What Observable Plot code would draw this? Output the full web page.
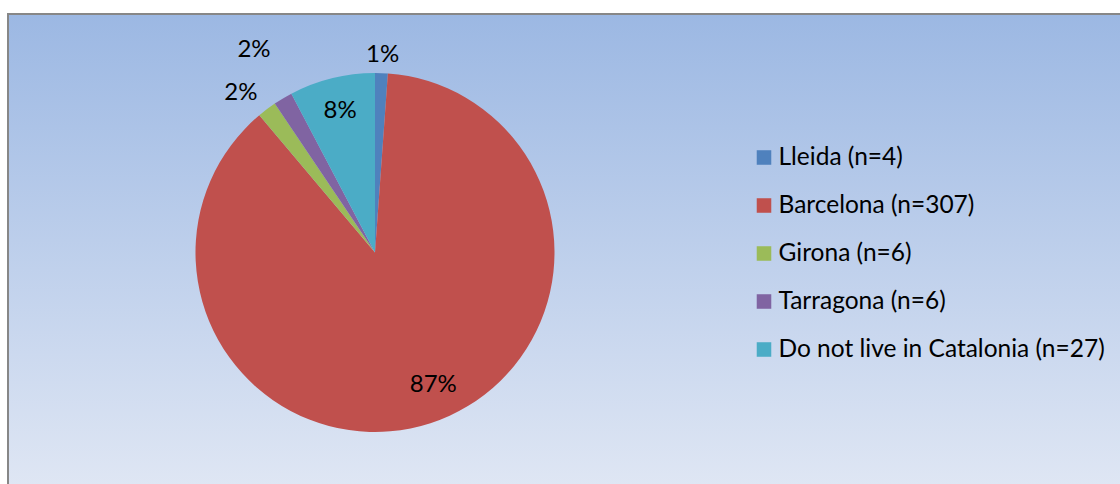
<!DOCTYPE html>
<html><head><meta charset="utf-8">
<script src="https://cdn.jsdelivr.net/npm/d3@7"></script>
<script src="https://cdn.jsdelivr.net/npm/@observablehq/plot@0.6"></script>
<style>
html,body{margin:0;padding:0;background:#fff;width:1120px;height:484px;overflow:hidden;}
#frame{position:absolute;left:7px;top:13px;width:1120px;height:480px;border-top:2px solid #878787;border-left:2px solid #878787;background:linear-gradient(to bottom,#9cb8e3 0%,#e0e7f4 100%);}
#pie{position:absolute;left:0;top:0;}
#legend{position:absolute;left:740px;top:118px;}
svg{background:transparent !important;}
</style></head>
<body><div id="frame"><div id="pie"></div><div id="legend"></div></div>
<script>
// ---- data ----
const categories = ["Lleida", "Barcelona", "Girona", "Tarragona", "Do not live in Catalonia"];
const counts = [4, 307, 6, 6, 27];
const pctLabels = ["1%", "87%", "2%", "2%", "8%"];
const colors = ["#4F81BD", "#C0504D", "#9BBB59", "#8064A2", "#4BACC6"];

const legendLabels = categories.map((c, i) => `${c} (n=${counts[i]})`);
const data = categories.map((c, i) => ({category: c, count: counts[i], pct: pctLabels[i], legend: legendLabels[i]}));
const total = d3.sum(counts);

// pie layout (12 o'clock start, clockwise)
const arcs = d3.pie().sort(null).value(d => d.count)(data);
let run = 0;
arcs.forEach(a => {
  const mid = (a.startAngle + a.endAngle) / 2;
  const share = a.data.count / total;
  let r, ang = mid;
  if (share > 0.5) { r = 0.8; ang = mid - 0.1; run = 0; }
  else if (share > 0.05) { r = 0.82; run = 0; }
  else {
    const left = Math.sin(mid) < 0;
    r = (left ? 1.17 : 1.11) + 0.15 * run;
    if (run === 0 && left) ang = mid - 0.05;
    run++;
  }
  a.lx = r * Math.sin(ang);
  a.ly = r * Math.cos(ang);
});

const color = Plot.scale({color: {domain: categories, range: colors}});

// pie plot geometry (unit = pie radius)
const W = 740, H = 469, R = 179.5, cx = 366, cy = 237.5;

const pieMark = (index, scales) => {
  const g = d3.create("svg:g");
  const x0 = scales.x(0), y0 = scales.y(0);
  const rad = scales.x(1) - scales.x(0);
  const arc = d3.arc().innerRadius(0).outerRadius(rad);
  g.attr("transform", `translate(${x0},${y0})`)
    .selectAll("path").data(arcs).join("path")
    .attr("d", arc)
    .attr("fill", d => color.apply(d.data.category));
  return g.node();
};

const pie = Plot.plot({
  width: W, height: H,
  margin: 0,
  style: {fontFamily: "Lato, 'Open Sans', sans-serif", background: "transparent", overflow: "visible"},
  x: {domain: [-cx / R, (W - cx) / R], axis: null},
  y: {domain: [-(H - cy) / R, cy / R], axis: null},
  marks: [
    pieMark,
    Plot.text(arcs, {x: "lx", y: "ly", text: d => d.data.pct, fontSize: 24, fill: "#000"})
  ]
});
document.getElementById("pie").appendChild(pie);

const legend = Plot.plot({
  width: 380, height: 240,
  margin: 0,
  style: {fontFamily: "Lato, 'Open Sans', sans-serif", background: "transparent", overflow: "visible"},
  y: {domain: categories, range: [0, 240], padding: 0.5, axis: null},
  color: {domain: categories, range: colors},
  marks: [
    Plot.dot(data, {y: "category", frameAnchor: "left", dx: 14.5, symbol: "square", r: 8.2, fill: "category", stroke: null}),
    Plot.text(data, {y: "category", frameAnchor: "left", textAnchor: "start", dx: 29, text: "legend", fontSize: 24.5, fill: "#000"})
  ]
});
document.getElementById("legend").appendChild(legend);
</script>
</body></html>
